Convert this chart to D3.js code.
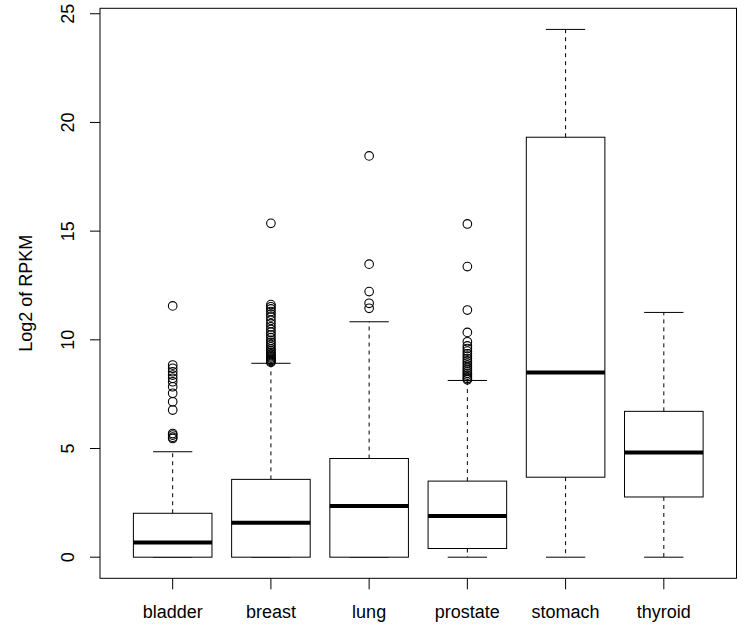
<!DOCTYPE html>
<html>
<head>
<meta charset="utf-8">
<script src="https://cdn.jsdelivr.net/npm/d3@7"></script>
<style>
  body { margin: 0; background: #fff; }
  text { font-family: "Liberation Sans", Arial, sans-serif; fill: #000; }
</style>
</head>
<body>
<div id="chart"></div>
<script>
// tissue categories and box statistics (log2 RPKM)
var categories = ["bladder", "breast", "lung", "prostate", "stomach", "thyroid"];
var lowerWhisker = [0, 0, 0, 0, 0, 0];
var q1 = [0, 0, 0, 0.40, 3.68, 2.77];
var medians = [0.68, 1.58, 2.35, 1.89, 8.50, 4.82];
var q3 = [2.02, 3.58, 4.54, 3.50, 19.32, 6.71];
var upperWhisker = [4.85, 8.92, 10.83, 8.13, 24.28, 11.26];
var outliers = [
  [11.56, 8.84, 8.69, 8.53, 8.38, 8.23, 8.07, 7.84, 7.54, 7.15, 6.77, 5.69, 5.62, 5.52, 5.46],
  [15.36, 11.62, 11.52, 11.42, 11.3, 11.18, 11.05, 10.9, 10.75, 10.6, 10.48, 10.35, 10.22, 10.1,
   9.98, 9.88, 9.78, 9.68, 9.58, 9.5, 9.42, 9.35, 9.28, 9.22, 9.16, 9.1, 9.05, 9.0, 8.96],
  [18.46, 13.48, 12.22, 11.68, 11.45],
  [15.33, 13.37, 11.37, 10.34, 9.91, 9.72, 9.6, 9.48, 9.36, 9.25, 9.14, 9.03, 8.93, 8.83,
   8.73, 8.64, 8.55, 8.46, 8.38, 8.3, 8.22, 8.16],
  [],
  []
];
var yTicks = [0, 5, 10, 15, 20, 25];
var yLabel = "Log2 of RPKM";

var width = 747, height = 630;
var plot = { left: 100, right: 736.5, top: 8.3, bottom: 578.3 };

var svg = d3.select("#chart").append("svg")
  .attr("width", width)
  .attr("height", height);

// R style: xlim c(0.5, n + 0.5) widened by 4%
var n = categories.length;
var x = d3.scaleLinear()
  .domain([0.5 - n * 0.04, n + 0.5 + n * 0.04])
  .range([plot.left, plot.right]);

var yMin = 0, yMax = d3.max(upperWhisker.concat(d3.merge(outliers)));
var pad = (yMax - yMin) * 0.04;
var y = d3.scaleLinear()
  .domain([yMin - pad, yMax + pad])
  .range([plot.bottom, plot.top]);

var halfBox = (x(2) - x(1)) * 0.4;
var halfCap = halfBox / 2;

var stats = categories.map(function (c, i) {
  return {
    name: c, pos: i + 1,
    lo: lowerWhisker[i], q1: q1[i], med: medians[i], q3: q3[i], hi: upperWhisker[i],
    out: outliers[i]
  };
});

var g = svg.selectAll(".box")
  .data(stats).enter()
  .append("g").attr("class", "box");

// whiskers (dashed)
g.append("line")
  .attr("x1", function (d) { return x(d.pos); })
  .attr("x2", function (d) { return x(d.pos); })
  .attr("y1", function (d) { return y(d.q3); })
  .attr("y2", function (d) { return y(d.hi); })
  .attr("stroke", "#000").attr("stroke-dasharray", "4,4");
g.append("line")
  .attr("x1", function (d) { return x(d.pos); })
  .attr("x2", function (d) { return x(d.pos); })
  .attr("y1", function (d) { return y(d.q1); })
  .attr("y2", function (d) { return y(d.lo); })
  .attr("stroke", "#000").attr("stroke-dasharray", "4,4");

// staples
["hi", "lo"].forEach(function (k) {
  g.append("line")
    .attr("x1", function (d) { return x(d.pos) - halfCap; })
    .attr("x2", function (d) { return x(d.pos) + halfCap; })
    .attr("y1", function (d) { return y(d[k]); })
    .attr("y2", function (d) { return y(d[k]); })
    .attr("stroke", "#000");
});

// boxes
g.append("rect")
  .attr("x", function (d) { return x(d.pos) - halfBox; })
  .attr("width", halfBox * 2)
  .attr("y", function (d) { return y(d.q3); })
  .attr("height", function (d) { return y(d.q1) - y(d.q3); })
  .attr("fill", "#fff").attr("stroke", "#000");

// medians
g.append("line")
  .attr("x1", function (d) { return x(d.pos) - halfBox; })
  .attr("x2", function (d) { return x(d.pos) + halfBox; })
  .attr("y1", function (d) { return y(d.med); })
  .attr("y2", function (d) { return y(d.med); })
  .attr("stroke", "#000").attr("stroke-width", 4);

// outliers
g.selectAll(".out")
  .data(function (d) { return d.out.map(function (v) { return { pos: d.pos, v: v }; }); })
  .enter().append("circle")
  .attr("class", "out")
  .attr("cx", function (d) { return x(d.pos); })
  .attr("cy", function (d) { return y(d.v); })
  .attr("r", 4.3)
  .attr("fill", "none").attr("stroke", "#000").attr("stroke-width", 1.1);

// frame
svg.append("rect")
  .attr("x", plot.left).attr("y", plot.top)
  .attr("width", plot.right - plot.left)
  .attr("height", plot.bottom - plot.top)
  .attr("fill", "none").attr("stroke", "#000");

// x axis
var xAxis = svg.append("g");
xAxis.selectAll("line")
  .data(stats).enter().append("line")
  .attr("x1", function (d) { return x(d.pos); })
  .attr("x2", function (d) { return x(d.pos); })
  .attr("y1", plot.bottom).attr("y2", plot.bottom + 11)
  .attr("stroke", "#000");
xAxis.selectAll("text")
  .data(stats).enter().append("text")
  .attr("x", function (d) { return x(d.pos); })
  .attr("y", 618)
  .attr("text-anchor", "middle")
  .style("font-size", "18px")
  .text(function (d) { return d.name; });

// y axis
var yAxis = svg.append("g");
yAxis.selectAll("line")
  .data(yTicks).enter().append("line")
  .attr("x1", plot.left - 10).attr("x2", plot.left)
  .attr("y1", function (d) { return y(d); })
  .attr("y2", function (d) { return y(d); })
  .attr("stroke", "#000");
yAxis.selectAll("text")
  .data(yTicks).enter().append("text")
  .attr("transform", function (d) { return "translate(74," + y(d) + ") rotate(-90)"; })
  .attr("text-anchor", "middle")
  .style("font-size", "18px")
  .text(function (d) { return d; });

svg.append("text")
  .attr("transform", "translate(32," + ((plot.top + plot.bottom) / 2) + ") rotate(-90)")
  .attr("text-anchor", "middle")
  .style("font-size", "18px")
  .text(yLabel);
</script>
</body>
</html>
